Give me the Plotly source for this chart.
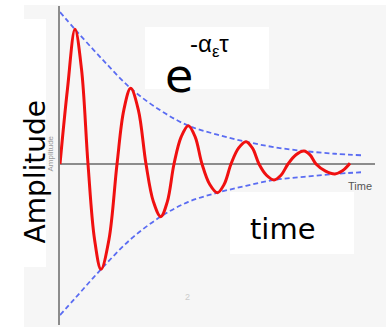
import plotly.graph_objects as go

# Damped oscillation sampled along the curve (time, amplitude)
wave_t = [0.0, 0.238, 0.476, 0.683, 0.889, 1.096, 1.302, 1.556, 1.810, 2.027, 2.244,
          2.487, 2.730, 2.964, 3.197, 3.408, 3.619, 3.846, 4.073, 4.291, 4.508,
          4.751, 4.994, 5.212, 5.429, 5.667, 5.905, 6.111, 6.317, 6.556, 6.794,
          7.016, 7.238, 7.492, 7.746, 7.937, 8.127, 8.429, 8.730, 8.968, 9.206]
wave_a = [0.0, 0.50, 0.895, 0.63, 0.0, -0.50, -0.700, -0.50, 0.0, 0.36, 0.503,
          0.36, 0.0, -0.25, -0.350, -0.25, 0.0, 0.18, 0.255, 0.18, 0.0,
          -0.135, -0.191, -0.135, 0.0, 0.105, 0.148, 0.105, 0.0, -0.075, -0.106,
          -0.075, 0.0, 0.061, 0.086, 0.061, 0.0, -0.047, -0.066, -0.045, 0.005]

# Exponential decay envelope
env_t = [0.0, 0.476, 1.302, 2.244, 3.197, 4.073, 4.994, 5.905, 6.794, 7.746, 8.730, 9.556]
env_upper = [1.010, 0.895, 0.705, 0.503, 0.355, 0.255, 0.195, 0.148, 0.112, 0.086, 0.068, 0.058]
env_lower = [-1.004, -0.893, -0.700, -0.500, -0.350, -0.252, -0.191, -0.145, -0.106, -0.085, -0.066, -0.055]

W, H = 386, 327
L, R, T, B = 60, 11, 6, 2
PW, PH = W - L - R, H - T - B


def fx(x):
    return (x - L) / PW


def fy(y):
    return (H - B - y) / PH


fig = go.Figure()

env_style = dict(color="#5a6cf2", width=1.8, dash="5px,3px", shape="spline")
fig.add_trace(go.Scatter(x=env_t, y=env_upper, mode="lines", line=env_style, hoverinfo="skip"))
fig.add_trace(go.Scatter(x=env_t, y=env_lower, mode="lines", line=env_style, hoverinfo="skip"))
fig.add_trace(go.Scatter(x=wave_t, y=wave_a, mode="lines",
                         line=dict(color="#f01010", width=3, shape="spline", smoothing=1.0),
                         hoverinfo="skip"))

shapes = [
    # light grey canvas
    dict(type="rect", xref="paper", yref="paper", x0=fx(24), x1=fx(386), y0=fy(327), y1=fy(5),
         fillcolor="#f6f6f6", line=dict(width=0), layer="below"),
    # white label panels
    dict(type="rect", xref="paper", yref="paper", x0=fx(0), x1=fx(46), y0=fy(267), y1=fy(19),
         fillcolor="white", line=dict(width=0), layer="below"),
    dict(type="rect", xref="paper", yref="paper", x0=fx(145), x1=fx(269), y0=fy(89), y1=fy(27),
         fillcolor="white", line=dict(width=0), layer="below"),
    dict(type="rect", xref="paper", yref="paper", x0=fx(230), x1=fx(354), y0=fy(254), y1=fy(192),
         fillcolor="white", line=dict(width=0), layer="below"),
]

annotations = [
    dict(text="Amplitude", x=fx(34.5), y=fy(172), textangle=-90,
         font=dict(family="DejaVu Sans", size=28, color="black")),
    dict(text="Amplitude", x=fx(49.5), y=fy(154), textangle=-90,
         font=dict(family="Liberation Sans", size=8, color="#999999")),
    dict(text="time", x=fx(283), y=fy(229),
         font=dict(family="DejaVu Sans", size=29, color="black")),
    dict(text="e", x=fx(179), y=fy(76),
         font=dict(family="DejaVu Sans", size=46, color="black")),
    dict(text="-α<sub>ε</sub>τ", x=fx(209), y=fy(46),
         font=dict(family="Liberation Sans", size=24, color="black")),
    dict(text="Time", x=fx(360), y=fy(186),
         font=dict(family="Liberation Sans", size=11, color="#555555")),
    dict(text="2", x=fx(187), y=fy(297),
         font=dict(family="Liberation Sans", size=9, color="#cccccc")),
]
for a in annotations:
    a.update(xref="paper", yref="paper", showarrow=False, xanchor="center", yanchor="middle")

fig.update_layout(
    width=W, height=H,
    margin=dict(l=L, r=R, t=T, b=B, pad=0),
    paper_bgcolor="white",
    plot_bgcolor="rgba(0,0,0,0)",
    showlegend=False,
    shapes=shapes,
    annotations=annotations,
    xaxis=dict(range=[0, 10], showgrid=False, zeroline=False, showline=False,
               showticklabels=False, ticks=""),
    yaxis=dict(range=[-1.07, 1.05], showgrid=False, zeroline=True, zerolinecolor="#8c8c8c",
               zerolinewidth=1.6, showline=True, linecolor="#8c8c8c", linewidth=1.6,
               showticklabels=False, ticks=""),
)

fig.write_html("out.html")
